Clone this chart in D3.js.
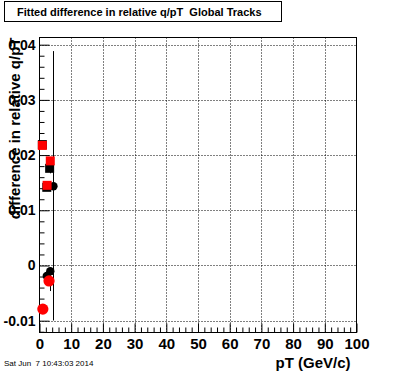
<!DOCTYPE html>
<html>
<head>
<meta charset="utf-8">
<script src="https://cdn.jsdelivr.net/npm/d3@7"></script>
<style>
  html, body { margin: 0; padding: 0; background: #fff; }
  svg { display: block; }
  text { font-family: "Liberation Sans", Arial, Helvetica, sans-serif; }
</style>
</head>
<body>
<svg id="chart" width="396" height="372"></svg>
<script>
// ---- data ----
const title = "Fitted difference in relative q/pT  Global Tracks";
const xTitle = "pT (GeV/c)";
const yTitle = "difference in relative q/pT";
const dateText = "Sat Jun  7 10:43:03 2014";

const xDomain = [0, 100];
const yDomain = [-0.01214, 0.0413];
const xTickValues = [0, 10, 20, 30, 40, 50, 60, 70, 80, 90, 100];
const yTickValues = [-0.01, 0, 0.01, 0.02, 0.03, 0.04];
const yTickLabels = ["-0.01", "0", "0.01", "0.02", "0.03", "0.04"];

// black circles
const blackCirclePt = [4.4, 2.3, 3.4];
const blackCircleVal = [0.01434, -0.0019, -0.00103];
const blackCircleErrLo = [0.0243, 0, 0.0036];
const blackCircleErrHi = [0.0245, 0, 0.0005];
// black squares
const blackSquarePt = [0.9, 3.2, 2.3];
const blackSquareVal = [0.0219, 0.0176, 0.01416];
const blackSquareErrLo = [0, 0.0009, 0];
const blackSquareErrHi = [0, 0.0019, 0];
// red squares
const redSquarePt = [0.9, 3.4, 2.4];
const redSquareVal = [0.02175, 0.01895, 0.01452];
// red circles
const redCirclePt = [1.05, 3.0];
const redCircleVal = [-0.0079, -0.0028];

// ---- layout ----
const W = 396, H = 372;
const frame = { left: 39.5, right: 356.5, top: 37.5, bottom: 332.5 };

const svg = d3.select("#chart");
svg.append("rect").attr("width", W).attr("height", H).attr("fill", "#fff");

const x = d3.scaleLinear().domain(xDomain).range([frame.left, frame.right]);
const y = d3.scaleLinear().domain(yDomain).range([frame.bottom, frame.top]);

// grid
const grid = svg.append("g").attr("stroke", "#000").attr("stroke-width", 1).attr("stroke-dasharray", "1,2");
grid.selectAll("line.v").data(xTickValues.filter(v => v > 0 && v < 100)).join("line")
  .attr("x1", d => Math.round(x(d)) + 0.5).attr("x2", d => Math.round(x(d)) + 0.5)
  .attr("y1", frame.top).attr("y2", frame.bottom);
grid.selectAll("line.h").data(yTickValues).join("line")
  .attr("y1", d => Math.round(y(d)) + 0.5).attr("y2", d => Math.round(y(d)) + 0.5)
  .attr("x1", frame.left).attr("x2", frame.right);

// frame
svg.append("rect")
  .attr("x", frame.left).attr("y", frame.top)
  .attr("width", frame.right - frame.left).attr("height", frame.bottom - frame.top)
  .attr("fill", "none").attr("stroke", "#000").attr("stroke-width", 1);

// x axis ticks (major + minor), ticks pointing up
const xMinor = d3.range(0, 101, 2).filter(v => v % 10 !== 0);
const xAxisMajor = d3.axisBottom(x).tickValues(xTickValues).tickSizeInner(-9).tickSizeOuter(0).tickFormat(d3.format("d"));
const gx = svg.append("g").attr("transform", `translate(0,${frame.bottom})`).call(xAxisMajor);
gx.select(".domain").remove();
gx.selectAll("text").attr("font-size", 15).attr("font-weight", "bold").attr("dy", null).attr("y", 16);
gx.selectAll(".tick line").attr("stroke", "#000");
const gxm = svg.append("g").attr("transform", `translate(0,${frame.bottom})`)
  .call(d3.axisBottom(x).tickValues(xMinor).tickSizeInner(-5).tickSizeOuter(0).tickFormat(""));
gxm.select(".domain").remove();

// y axis ticks (major + minor), ticks pointing right
const yMinor = d3.range(-12, 42, 2).map(v => v / 1000).filter(v => Math.round(v * 1000) % 10 !== 0 && v >= yDomain[0] && v <= yDomain[1]);
const gy = svg.append("g").attr("transform", `translate(${frame.left},0)`)
  .call(d3.axisLeft(y).tickValues(yTickValues).tickSizeInner(-10).tickSizeOuter(0)
    .tickFormat((d, i) => yTickLabels[i]));
gy.select(".domain").remove();
gy.selectAll("text").attr("font-size", 14).attr("font-weight", "bold").attr("x", -4);
const gym = svg.append("g").attr("transform", `translate(${frame.left},0)`)
  .call(d3.axisLeft(y).tickValues(yMinor).tickSizeInner(-5).tickSizeOuter(0).tickFormat(""));
gym.select(".domain").remove();

// error bars
function errBars(pts, vals, lo, hi) {
  const data = pts.map((p, i) => ({ p, v: vals[i], lo: lo[i], hi: hi[i] })).filter(d => d.lo + d.hi > 0);
  svg.append("g").selectAll("line").data(data).join("line")
    .attr("x1", d => Math.round(x(d.p)) + 0.5).attr("x2", d => Math.round(x(d.p)) + 0.5)
    .attr("y1", d => y(d.v - d.lo)).attr("y2", d => y(d.v + d.hi))
    .attr("stroke", "#000").attr("stroke-width", 1);
}
errBars(blackCirclePt, blackCircleVal, blackCircleErrLo, blackCircleErrHi);
errBars(blackSquarePt, blackSquareVal, blackSquareErrLo, blackSquareErrHi);

// markers
function circles(pts, vals, color, r) {
  svg.append("g").selectAll("circle").data(pts.map((p, i) => ({ p, v: vals[i] }))).join("circle")
    .attr("cx", d => x(d.p)).attr("cy", d => y(d.v)).attr("r", r).attr("fill", color);
}
function squares(pts, vals, color, s) {
  svg.append("g").selectAll("rect").data(pts.map((p, i) => ({ p, v: vals[i] }))).join("rect")
    .attr("x", d => x(d.p) - s / 2).attr("y", d => y(d.v) - s / 2)
    .attr("width", s).attr("height", s).attr("fill", color);
}
circles(blackCirclePt, blackCircleVal, "#000", 4.2);
squares(blackSquarePt, blackSquareVal, "#000", 9);
squares(redSquarePt, redSquareVal, "#ff0000", 9);
circles(redCirclePt, redCircleVal, "#ff0000", 5.6);

// title box
svg.append("rect").attr("x", 4.5).attr("y", 1.5).attr("width", 277).attr("height", 20)
  .attr("fill", "#fff").attr("stroke", "#000").attr("stroke-width", 1);
svg.append("text").attr("x", 17).attr("y", 15.5).attr("font-size", 11).attr("font-weight", "bold")
  .attr("xml:space", "preserve").style("white-space", "pre").text(title);

// axis titles
svg.append("text").attr("x", frame.right - 6).attr("y", 368).attr("text-anchor", "end")
  .attr("font-size", 15).attr("font-weight", "bold").text(xTitle);
svg.append("text").attr("transform", `translate(20,${frame.top}) rotate(-90)`).attr("text-anchor", "end")
  .attr("font-size", 15).attr("font-weight", "bold").text(yTitle);

// date
svg.append("text").attr("x", 4).attr("y", 366).attr("font-size", 8)
  .style("white-space", "pre").text(dateText);
</script>
</body>
</html>
